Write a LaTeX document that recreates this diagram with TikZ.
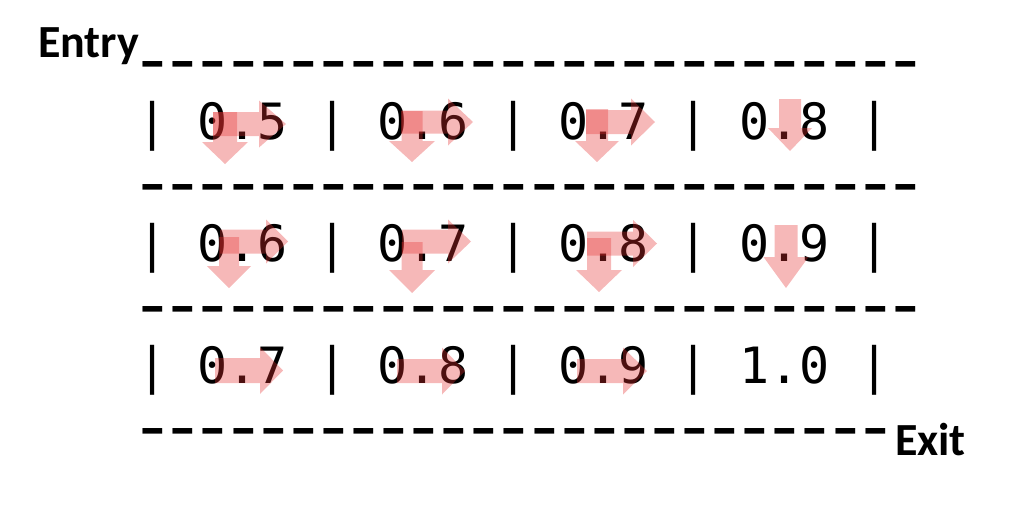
\documentclass[tikz,border=0pt]{standalone}
\usepackage{fontspec}
\usepackage{graphicx}
\newfontfamily\monof{DejaVu Sans Mono}
\newfontfamily\labf{Carlito}
\definecolor{arrred}{RGB}{228,48,48}
\newcommand\dsh{\makebox[0.602em][c]{\scalebox{1.55}[1.4]{-}}}
\newcommand\dshs[1]{\foreach \i in {1,...,#1}{\dsh}}
\newcommand\rarr[6]{\fill[arrpink] (#1,#2-#5) -- (#3,#2-#5) -- (#3,#2-#6) -- (#4,#2) -- (#3,#2+#6) -- (#3,#2+#5) -- (#1,#2+#5) -- cycle;}
\newcommand\darr[6]{\fill[arrpink] (#1-#5,#2) -- (#1-#5,#3) -- (#1-#6,#3) -- (#1,#4) -- (#1+#6,#3) -- (#1+#5,#3) -- (#1+#5,#2) -- cycle;}
\begin{document}
\begin{tikzpicture}[x=1pt,y=-1pt,
  mono/.style={inner sep=0pt,outer sep=0pt,anchor=base west,font=\monof\fontsize{50}{50}\selectfont},
  lab/.style={inner sep=0pt,outer sep=0pt,anchor=base west,font=\labf\bfseries\fontsize{46}{46}\selectfont},
  arrpink/.style={fill=arrred,fill opacity=0.34}]
\useasboundingbox (0,0) rectangle (1030,506);
% labels
\node[lab] (entry) at (38,57) {Entry};
\node[lab] (exit) at (895,455) {Exit};
% dash lines
\node[mono] (d0) at (138,83.5) {\dshs{26}};
\node[mono] (d1) at (138,206) {\dshs{26}};
\node[mono] (d2) at (138,328.5) {\dshs{26}};
\node[mono] (d3) at (138,450.5) {\dshs{25}};
% rows
\node[mono] (r1) at (137,139) {| 0.5 | 0.6 | 0.7 | 0.8 |};
\node[mono] (r2) at (137,261.5) {| 0.6 | 0.7 | 0.8 | 0.9 |};
\node[mono] (r3) at (137,383.5) {| 0.7 | 0.8 | 0.9 | 1.0 |};
% right arrows
\rarr{213}{124}{259}{286}{12}{23.5}
\rarr{401}{122}{448}{473}{11.5}{23.5}
\rarr{586}{122}{631}{655}{12}{23.5}
\rarr{220}{241.5}{266}{288}{12}{22}
\rarr{402}{241.5}{448}{471}{12}{22}
\rarr{587}{243.5}{633}{657}{12}{23.5}
\rarr{215}{370.5}{260}{283}{12.5}{23.5}
\rarr{397}{371}{442}{465}{12}{23.5}
\rarr{577}{371}{623}{647}{12}{23.5}
% down arrows
\darr{225}{112}{142}{164}{12}{23}
\darr{412}{111}{141}{162}{10.5}{23}
\darr{597}{109}{141}{162}{11}{22}
\darr{790}{99}{128}{151}{11}{22}
\darr{229}{237}{266}{288}{10}{22}
\darr{412}{242}{270}{293}{10.5}{23}
\darr{599}{238}{270}{292}{12}{23}
\darr{786}{225}{257}{288}{11.5}{22.5}
\end{tikzpicture}
\end{document}
